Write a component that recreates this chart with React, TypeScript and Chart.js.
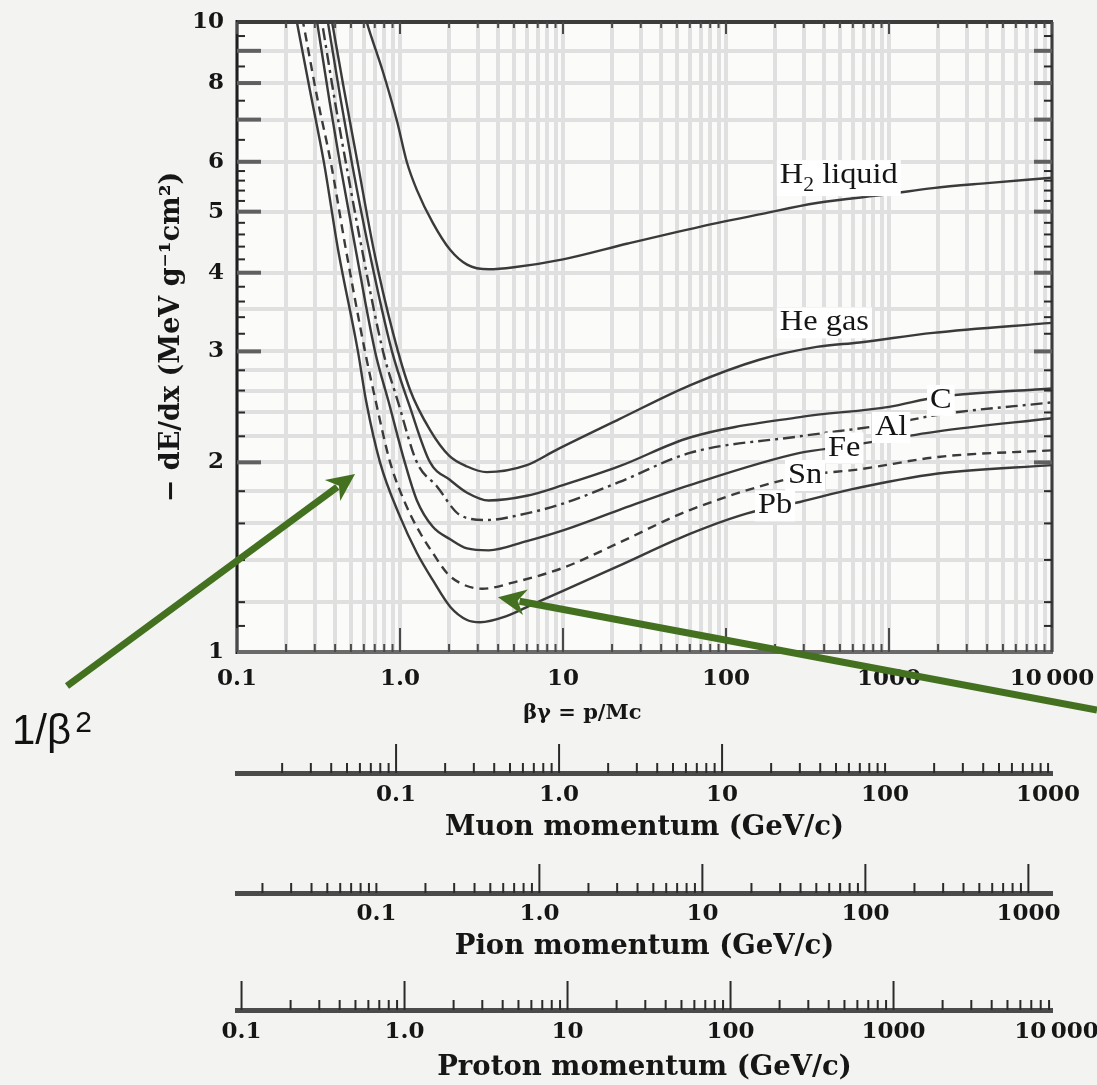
import React, { useEffect, useRef } from "react";
import { Chart, registerables } from "chart.js";

Chart.register(...registerables);

// ---------------- data ----------------
const materials = ["H2 liquid", "He gas", "C", "Al", "Fe", "Sn", "Pb"];

const h2BetaGamma = [0.58, 0.64, 0.79, 0.96, 1.1, 1.27, 1.59, 2.03, 2.58, 3.5, 5, 10, 25, 69, 160, 360, 1000, 1860, 4000, 10000];
const h2DeDx = [10.7, 9.8, 8.3, 6.95, 6.0, 5.41, 4.8, 4.35, 4.12, 4.05, 4.08, 4.2, 4.45, 4.73, 4.95, 5.16, 5.33, 5.45, 5.55, 5.66];

const heBetaGamma = [0.35, 0.383, 0.45, 0.55, 0.69, 0.906, 1.15, 1.53, 2.0, 2.58, 3.4, 6, 9, 22, 60, 160, 360, 660, 1860, 10000];
const heDeDx = [11.5, 10, 7.9, 5.97, 4.35, 3.21, 2.61, 2.25, 2.05, 1.97, 1.93, 1.98, 2.09, 2.34, 2.65, 2.91, 3.05, 3.1, 3.21, 3.33];

const cBetaGamma = [0.33, 0.361, 0.43, 0.507, 0.645, 0.893, 1.15, 1.53, 2.03, 2.58, 3.5, 6, 10, 22, 60, 284, 1000, 2000, 10000];
const cDeDx = [11.5, 10, 7.6, 5.97, 4.35, 3.0, 2.45, 2.0, 1.875, 1.79, 1.74, 1.77, 1.84, 1.97, 2.19, 2.36, 2.45, 2.54, 2.62];

const alBetaGamma = [0.3, 0.332, 0.4, 0.466, 0.585, 0.787, 0.97, 1.27, 1.69, 2.33, 3.4, 6, 10, 22, 60, 284, 1000, 2000, 10000];
const alDeDx = [11.7, 10, 7.45, 5.97, 4.35, 3.0, 2.5, 2.0, 1.83, 1.65, 1.62, 1.66, 1.72, 1.86, 2.07, 2.2, 2.3, 2.38, 2.49];

const feBetaGamma = [0.28, 0.31, 0.37, 0.428, 0.535, 0.703, 0.85, 1.07, 1.27, 1.59, 2.03, 2.58, 3.5, 6, 10, 22, 60, 284, 537, 2000, 10000];
const feDeDx = [11.7, 10, 7.47, 5.97, 4.35, 3.0, 2.5, 2.0, 1.74, 1.58, 1.51, 1.46, 1.45, 1.5, 1.56, 1.68, 1.84, 2.07, 2.12, 2.24, 2.35];

const snBetaGamma = [0.23, 0.254, 0.31, 0.377, 0.466, 0.61, 0.71, 0.87, 1.1, 1.33, 1.59, 1.94, 2.33, 3.2, 5, 10, 22, 60, 284, 661, 2000, 10000];
const snDeDx = [11.3, 10, 7.6, 5.97, 4.35, 3.0, 2.5, 2.0, 1.7, 1.545, 1.436, 1.335, 1.287, 1.26, 1.29, 1.36, 1.49, 1.68, 1.9, 1.95, 2.04, 2.09];

const pbBetaGamma = [0.21, 0.233, 0.28, 0.342, 0.417, 0.552, 0.62, 0.754, 1.0, 1.27, 1.59, 2.03, 2.58, 3.1, 4.5, 6.5, 10, 22, 60, 135, 284, 576, 2000, 10000];
const pbDeDx = [11.6, 10, 7.8, 5.97, 4.35, 3.0, 2.5, 2.0, 1.64, 1.436, 1.3, 1.18, 1.124, 1.115, 1.14, 1.19, 1.25, 1.37, 1.54, 1.66, 1.73, 1.81, 1.92, 1.98];

const curveBetaGamma = [h2BetaGamma, heBetaGamma, cBetaGamma, alBetaGamma, feBetaGamma, snBetaGamma, pbBetaGamma];
const curveDeDx = [h2DeDx, heDeDx, cDeDx, alDeDx, feDeDx, snDeDx, pbDeDx];
const curveDash = [[], [], [], [12, 5, 3, 5], [], [9, 6], []];

// curve labels (text pieces: [normal, subscript, normal])
const curveLabelParts = [["H", "2", " liquid"], ["He gas"], ["C"], ["Al"], ["Fe"], ["Sn"], ["Pb"]];
const curveLabelBetaGamma = [214, 214, 1786, 820, 423, 240, 157];
const curveLabelDeDx = [5.55, 3.24, 2.44, 2.21, 2.05, 1.855, 1.66];

// axes
const xTickLabelValues = [0.1, 1, 10, 100, 1000, 10000];
const xTickLabelTexts = ["0.1", "1.0", "10", "100", "1000", "10\u2009000"];
const yTickLabelValues = [1, 2, 3, 4, 5, 6, 8, 10];
const yTickLabelTexts = ["1", "2", "3", "4", "5", "6", "8", "10"];
const yGridValues = [1, 1.2, 1.4, 1.6, 1.8, 2, 2.2, 2.4, 2.6, 2.8, 3, 3.5, 4, 5, 6, 7, 8, 9, 10];
const yMajorTickValues = [2, 3, 4, 5, 6, 7, 8, 9];
const yMinorTickValues = [1.1, 1.2, 1.4, 1.6, 1.8, 2.2, 2.4, 2.6, 2.8, 3.2, 3.4, 3.6, 3.8, 4.2, 4.4, 4.6, 4.8, 5.2, 5.4, 5.6, 5.8, 6.5, 7.5, 8.5, 9.5];

const momentumLabelValues = [0.1, 1, 10, 100, 1000];
const momentumLabelTexts = ["0.1", "1.0", "10", "100", "1000"];
const protonLabelValues = [0.1, 1, 10, 100, 1000, 10000];
const protonLabelTexts = ["0.1", "1.0", "10", "100", "1000", "10\u2009000"];
const muonTallTicks = [0.1, 1, 10];
const pionTallTicks = [1, 10, 100, 1000];
const protonTallTicks = [0.1, 1, 10, 100, 1000];
const muonMass = 0.1057;
const pionMass = 0.1396;
const protonMass = 0.938;

// annotation arrows (in data coordinates of the βγ / dE/dx axes)
const arrowTailBetaGamma = [0.00906, 18880];
const arrowTailDeDx = [0.883, 0.809];
const arrowTipBetaGamma = [0.53, 3.99];
const arrowTipDeDx = [1.917, 1.222];
const annotationText = "1/β";

// ---------------- helpers ----------------
function decadeMultiples(lo: number, hi: number): number[] {
  const out: number[] = [];
  for (let k = -3; k <= 5; k++) {
    for (let m = 1; m <= 9; m++) {
      const v = Number((m * Math.pow(10, k)).toPrecision(6));
      if (v >= lo * 0.9999 && v <= hi * 1.0001) out.push(v);
    }
  }
  return out;
}
const xGridValues = decadeMultiples(0.1, 10000);

function lookup(values: number[], texts: string[], v: number): string {
  const i = values.findIndex((a) => Math.abs(a - v) / a < 1e-6);
  return i >= 0 ? texts[i] : "";
}

const TICK_FONT = { family: "DejaVu Serif", weight: "bold" as const, size: 23 };
const INK = "#161616";

function line(ctx: any, x1: number, y1: number, x2: number, y2: number) {
  ctx.beginPath();
  ctx.moveTo(x1, y1);
  ctx.lineTo(x2, y2);
  ctx.stroke();
}

function momentumAxis(mass: number, weight: number, height: number, labelPad: number, labelValues: number[], labelTexts: string[], title: string, titlePad: number) {
  return {
    type: "logarithmic",
    position: "bottom",
    weight,
    min: 0.1 * mass,
    max: 10000 * mass,
    afterBuildTicks: (s: any) => {
      s.ticks = labelValues.map((v) => ({ value: v }));
    },
    afterFit: (s: any) => {
      s.height = height;
      s.paddingLeft = 0;
      s.paddingRight = 0;
    },
    grid: { display: true, drawOnChartArea: false, drawTicks: false, color: "rgba(0,0,0,0)" },
    border: { display: true, color: "#4a4a4a", width: 5 },
    ticks: {
      autoSkip: false,
      maxRotation: 0,
      minRotation: 0,
      padding: labelPad,
      color: INK,
      font: TICK_FONT,
      callback: (v: any) => lookup(labelValues, labelTexts, Number(v)),
    },
    title: {
      display: true,
      text: title,
      color: INK,
      font: { family: "DejaVu Serif", weight: "bold" as const, size: 27.5 },
      padding: { top: 0, bottom: titlePad },
    },
  };
}

const decor = {
  id: "decor",
  beforeDraw(chart: any) {
    const { ctx, chartArea: a } = chart;
    ctx.save();
    ctx.fillStyle = "#f3f3f1";
    ctx.fillRect(0, 0, chart.width, chart.height);
    ctx.fillStyle = "#fbfbfa";
    ctx.fillRect(a.left, a.top, a.right - a.left, a.bottom - a.top);
    ctx.restore();
  },
  afterDraw(chart: any) {
    const { ctx, chartArea: a, scales } = chart;
    const xs = scales.x;
    const ys = scales.y;
    ctx.save();
    ctx.lineCap = "butt";

    // frame
    ctx.strokeStyle = "#1e1e1e";
    ctx.lineWidth = 3;
    line(ctx, a.left, a.top - 2, a.left, a.bottom + 2);
    ctx.strokeStyle = "#6a6a6a";
    ctx.lineWidth = 4;
    line(ctx, a.left, a.bottom, a.right + 1, a.bottom);
    ctx.strokeStyle = "#3c3c3c";
    line(ctx, a.left, a.top, a.right + 1, a.top);
    ctx.lineWidth = 3;
    line(ctx, a.right, a.top, a.right, a.bottom);

    // x tick marks (bottom & top)
    for (const v of xGridValues) {
      const px = xs.getPixelForValue(v);
      const major = xTickLabelValues.includes(v);
      ctx.strokeStyle = "#4a4a4a";
      ctx.lineWidth = 2;
      line(ctx, px, a.bottom, px, a.bottom - (major ? 24 : 8));
      line(ctx, px, a.top, px, a.top + (major ? 12 : 6));
    }
    // y tick marks (left & right)
    for (const v of yMinorTickValues) {
      const py = ys.getPixelForValue(v);
      ctx.strokeStyle = "#2a2a2a";
      ctx.lineWidth = 2;
      line(ctx, a.left, py, a.left + 8, py);
      line(ctx, a.right, py, a.right - 8, py);
    }
    for (const v of yMajorTickValues) {
      const py = ys.getPixelForValue(v);
      ctx.strokeStyle = "#606060";
      ctx.lineWidth = 4;
      line(ctx, a.left, py, a.left + 24, py);
      line(ctx, a.right, py, a.right - 18, py);
    }

    // momentum axes tick marks (pointing up)
    const mAxes = [
      { s: scales.muon, tall: muonTallTicks },
      { s: scales.pion, tall: pionTallTicks },
      { s: scales.proton, tall: protonTallTicks },
    ];
    for (const { s, tall } of mAxes) {
      const ticks = decadeMultiples(s.min, s.max);
      ctx.strokeStyle = "#2a2a2a";
      ctx.lineWidth = 2;
      for (const v of ticks) {
        const px = s.getPixelForValue(v);
        const isTall = tall.some((t: number) => Math.abs(t - v) / t < 1e-6);
        line(ctx, px, s.top, px, s.top - (isTall ? 29 : 10));
      }
    }

    // curve labels
    for (let i = 0; i < curveLabelParts.length; i++) {
      const x = xs.getPixelForValue(curveLabelBetaGamma[i]);
      const y = ys.getPixelForValue(curveLabelDeDx[i]);
      const parts = curveLabelParts[i];
      const mainFont = '30px "Liberation Serif"';
      const subFont = '20px "Liberation Serif"';
      let w = 0;
      parts.forEach((p, j) => {
        ctx.font = j === 1 ? subFont : mainFont;
        w += ctx.measureText(p).width;
      });
      const sx = 1.08;
      ctx.fillStyle = "#ffffff";
      ctx.fillRect(x - 3, y - 23, w * sx + 6, parts.length > 1 ? 36 : 31);
      ctx.fillStyle = "#151515";
      ctx.save();
      ctx.translate(x, y);
      ctx.scale(sx, 1);
      let cx = 0;
      parts.forEach((p, j) => {
        ctx.font = j === 1 ? subFont : mainFont;
        ctx.textBaseline = "alphabetic";
        ctx.fillText(p, cx, j === 1 ? 8 : 0);
        cx += ctx.measureText(p).width;
      });
      ctx.restore();
    }

    // green arrows
    const green = "#43711f";
    for (let i = 0; i < arrowTailBetaGamma.length; i++) {
      const x1 = xs.getPixelForValue(arrowTailBetaGamma[i]);
      const y1 = ys.getPixelForValue(arrowTailDeDx[i]);
      const x2 = xs.getPixelForValue(arrowTipBetaGamma[i]);
      const y2 = ys.getPixelForValue(arrowTipDeDx[i]);
      const ang = Math.atan2(y2 - y1, x2 - x1);
      const head = 28;
      const hw = 13;
      const cos = Math.cos(ang);
      const sin = Math.sin(ang);
      const bx = x2 - head * cos;
      const by = y2 - head * sin;
      ctx.strokeStyle = green;
      ctx.fillStyle = green;
      ctx.lineWidth = 7;
      line(ctx, x1, y1, bx + 6 * cos, by + 6 * sin);
      ctx.beginPath();
      ctx.moveTo(x2, y2);
      ctx.lineTo(bx + hw * sin, by - hw * cos);
      ctx.lineTo(bx + 8 * cos, by + 8 * sin);
      ctx.lineTo(bx - hw * sin, by + hw * cos);
      ctx.closePath();
      ctx.fill();
      if (i === 0) {
        ctx.fillStyle = "#111111";
        ctx.textBaseline = "alphabetic";
        ctx.font = '42px "Liberation Sans"';
        const tx = x1 - 55;
        const ty = y1 + 58;
        ctx.fillText(annotationText, tx, ty);
        const tw = ctx.measureText(annotationText).width;
        ctx.font = '30px "Liberation Sans"';
        ctx.fillText("2", tx + tw + 4, ty - 12);
      }
    }
    ctx.restore();
  },
};

export default function App() {
  const ref = useRef<HTMLCanvasElement>(null);
  useEffect(() => {
    document.body.style.margin = "0";
    document.body.style.background = "#f3f3f1";
    const datasets = materials.map((m, i) => ({
      label: m,
      data: curveBetaGamma[i].map((b, j) => ({ x: b, y: curveDeDx[i][j] })),
      borderColor: "#3a3a3a",
      borderWidth: 2.4,
      borderDash: curveDash[i],
      pointRadius: 0,
      fill: false,
      cubicInterpolationMode: "monotone" as const,
      xAxisID: "x",
      yAxisID: "y",
    }));
    const chart = new Chart(ref.current as HTMLCanvasElement, {
      type: "line",
      data: { datasets },
      options: {
        animation: false,
        responsive: false,
        devicePixelRatio: 1,
        layout: { padding: { left: 0, right: 45, top: 22, bottom: 0 } },
        plugins: { legend: { display: false }, tooltip: { enabled: false }, title: { display: false } },
        scales: {
          x: {
            type: "logarithmic",
            position: "bottom",
            weight: 0,
            min: 0.1,
            max: 10000,
            afterBuildTicks: (s: any) => {
              s.ticks = xGridValues.map((v) => ({ value: v }));
            },
            afterFit: (s: any) => {
              s.height = 121;
              s.paddingLeft = 0;
              s.paddingRight = 0;
            },
            grid: { color: "#e0e0e0", lineWidth: 4, drawTicks: false, drawOnChartArea: true },
            border: { display: false },
            ticks: {
              autoSkip: false,
              maxRotation: 0,
              minRotation: 0,
              padding: 13,
              color: INK,
              font: TICK_FONT,
              callback: (v: any) => lookup(xTickLabelValues, xTickLabelTexts, Number(v)),
            },
            title: {
              display: true,
              text: "βγ = p/Mc                 ",
              color: INK,
              font: { family: "DejaVu Serif", weight: "bold", size: 21 },
              padding: { top: 0, bottom: 47 },
            },
          },
          muon: momentumAxis(muonMass, 1, 120, 8, momentumLabelValues, momentumLabelTexts, "Muon momentum (GeV/c)", 48.5),
          pion: momentumAxis(pionMass, 2, 117, 7, momentumLabelValues, momentumLabelTexts, "Pion momentum (GeV/c)", 46.5),
          proton: momentumAxis(protonMass, 3, 75, 8, protonLabelValues, protonLabelTexts, "Proton momentum (GeV/c)", 1),
          y: {
            type: "logarithmic",
            position: "left",
            min: 1,
            max: 10,
            afterBuildTicks: (s: any) => {
              s.ticks = yGridValues.map((v) => ({ value: v }));
            },
            afterFit: (s: any) => {
              s.width = 237;
              s.paddingTop = 0;
              s.paddingBottom = 0;
            },
            grid: { color: "#e0e0e0", lineWidth: 4, drawTicks: false, drawOnChartArea: true },
            border: { display: false },
            ticks: {
              autoSkip: false,
              padding: 13,
              color: INK,
              font: TICK_FONT,
              callback: (v: any) => lookup(yTickLabelValues, yTickLabelTexts, Number(v)),
            },
            title: {
              display: true,
              text: "− dE/dx (MeV g⁻¹cm²)",
              color: INK,
              font: { family: "DejaVu Serif", weight: "bold", size: 27 },
              padding: { top: 156, bottom: 0 },
            },
          },
        } as any,
      },
      plugins: [decor],
    } as any);
    return () => chart.destroy();
  }, []);
  return (
    <div style={{ position: "absolute", left: 0, top: 0, width: 1097, height: 1085 }}>
      <canvas ref={ref} width={1097} height={1085} style={{ display: "block" }} />
    </div>
  );
}
